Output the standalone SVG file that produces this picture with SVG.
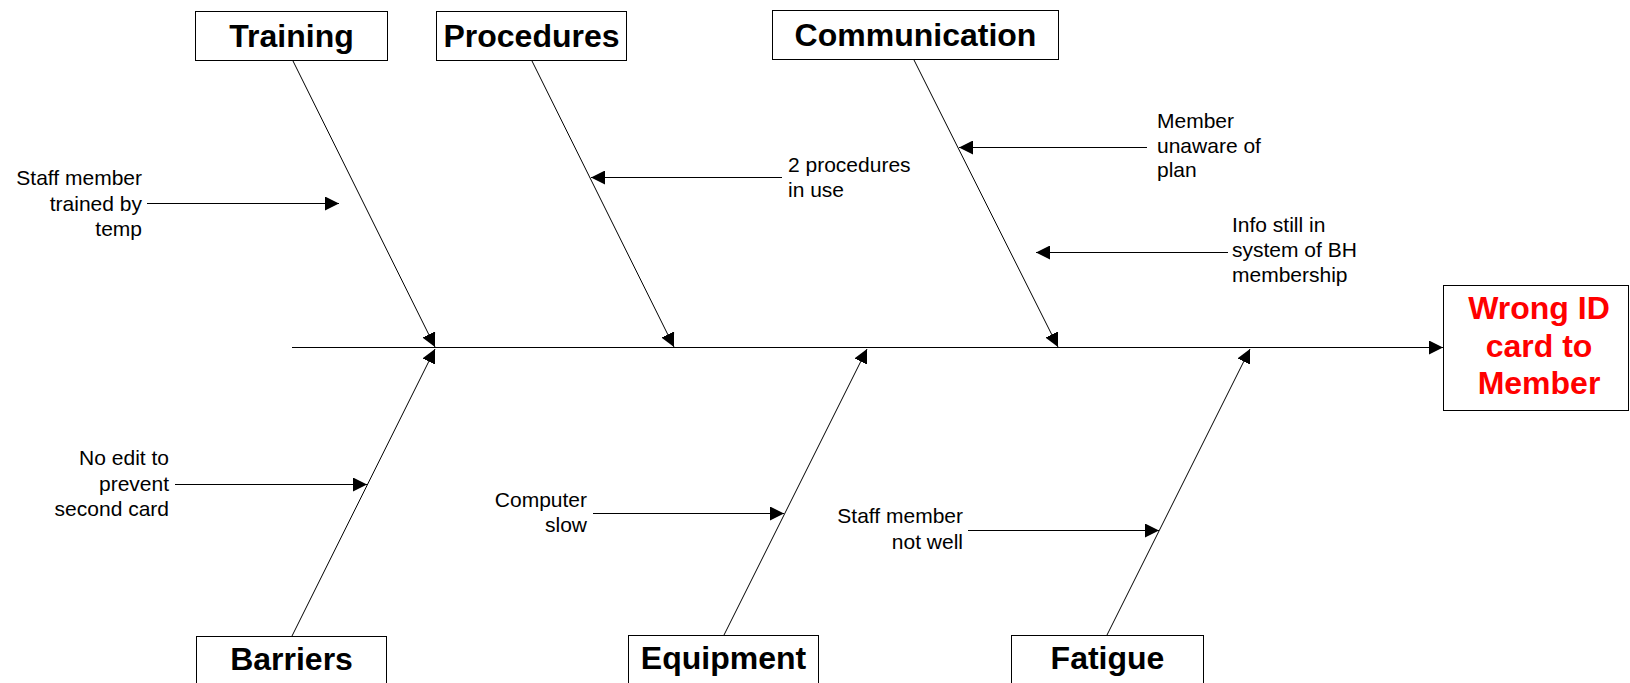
<svg xmlns="http://www.w3.org/2000/svg" width="1630" height="683" viewBox="0 0 1630 683">
  <style>
    .box { fill: #ffffff; stroke: #000000; stroke-width: 1; }
    .cat { font-family: "Liberation Sans", Arial, sans-serif; font-size: 32px; font-weight: bold; fill: #000000; text-anchor: middle; }
    .effect { font-family: "Liberation Sans", Arial, sans-serif; font-size: 32px; font-weight: bold; fill: #ff0000; text-anchor: middle; }
    .note { font-family: "Liberation Sans", Arial, sans-serif; font-size: 21px; fill: #000000; }
    .end { text-anchor: end; }
    .bone { stroke: #000000; stroke-width: 1; fill: none; marker-end: url(#arrow); }
  </style>
  <defs>
    <marker id="arrow" markerUnits="userSpaceOnUse" markerWidth="14" markerHeight="14" refX="14" refY="7" orient="auto">
      <path d="M0,0 L14,7 L0,14 Z" fill="#000000"/>
    </marker>
  </defs>
  <rect width="1630" height="683" fill="#ffffff"/>

  <!-- spine, branches and cause arrows -->
  <g id="connectors">
    <line class="bone" x1="292" y1="347.5" x2="1443" y2="347.5"/>
    <line class="bone" x1="293" y1="61" x2="435" y2="347"/>
    <line class="bone" x1="532" y1="61" x2="674" y2="347"/>
    <line class="bone" x1="914" y1="60" x2="1058" y2="347"/>
    <line class="bone" x1="292" y1="636" x2="435" y2="349"/>
    <line class="bone" x1="724" y1="635" x2="867" y2="349"/>
    <line class="bone" x1="1107" y1="635" x2="1250" y2="349"/>
    <line class="bone" x1="147" y1="203.5" x2="339" y2="203.5"/>
    <line class="bone" x1="782" y1="177.5" x2="591" y2="177.5"/>
    <line class="bone" x1="1147" y1="147.5" x2="959" y2="147.5"/>
    <line class="bone" x1="1228" y1="252.5" x2="1036" y2="252.5"/>
    <line class="bone" x1="175" y1="484.5" x2="367" y2="484.5"/>
    <line class="bone" x1="593" y1="513.5" x2="784" y2="513.5"/>
    <line class="bone" x1="968" y1="530.5" x2="1159" y2="530.5"/>
  </g>

  <g id="training">
    <rect class="box" x="195.5" y="11.5" width="192" height="49"/>
    <text class="cat" x="291.5" y="47">Training</text>
  </g>
  <g id="procedures">
    <rect class="box" x="436.5" y="11.5" width="190" height="49"/>
    <text class="cat" x="531.5" y="47">Procedures</text>
  </g>
  <g id="communication">
    <rect class="box" x="772.5" y="10.5" width="286" height="49"/>
    <text class="cat" x="915.5" y="46">Communication</text>
  </g>
  <g id="barriers">
    <rect class="box" x="196.5" y="636.5" width="190" height="50"/>
    <text class="cat" x="291.5" y="670">Barriers</text>
  </g>
  <g id="equipment">
    <rect class="box" x="628.5" y="635.5" width="190" height="50"/>
    <text class="cat" x="723.5" y="669">Equipment</text>
  </g>
  <g id="fatigue">
    <rect class="box" x="1011.5" y="635.5" width="192" height="50"/>
    <text class="cat" x="1107.5" y="669">Fatigue</text>
  </g>
  <g id="effect">
    <rect class="box" x="1443.5" y="285.5" width="185" height="125"/>
    <text class="effect" x="1539" y="319">Wrong ID</text>
    <text class="effect" x="1539" y="357">card to</text>
    <text class="effect" x="1539" y="394">Member</text>
  </g>

  <g id="cause-trained-by-temp">
    <text class="note end" x="142" y="185">Staff member</text>
    <text class="note end" x="142" y="211">trained by</text>
    <text class="note end" x="142" y="236">temp</text>
  </g>
  <g id="cause-two-procedures">
    <text class="note" x="788" y="172">2 procedures</text>
    <text class="note" x="788" y="197">in use</text>
  </g>
  <g id="cause-member-unaware">
    <text class="note" x="1157" y="128">Member</text>
    <text class="note" x="1157" y="153">unaware of</text>
    <text class="note" x="1157" y="177">plan</text>
  </g>
  <g id="cause-info-in-system">
    <text class="note" x="1232" y="232">Info still in</text>
    <text class="note" x="1232" y="257">system of BH</text>
    <text class="note" x="1232" y="282">membership</text>
  </g>
  <g id="cause-no-edit">
    <text class="note end" x="169" y="465">No edit to</text>
    <text class="note end" x="169" y="491">prevent</text>
    <text class="note end" x="169" y="516">second card</text>
  </g>
  <g id="cause-computer-slow">
    <text class="note end" x="587" y="507">Computer</text>
    <text class="note end" x="587" y="532">slow</text>
  </g>
  <g id="cause-staff-not-well">
    <text class="note end" x="963" y="523">Staff member</text>
    <text class="note end" x="963" y="549">not well</text>
  </g>
</svg>
